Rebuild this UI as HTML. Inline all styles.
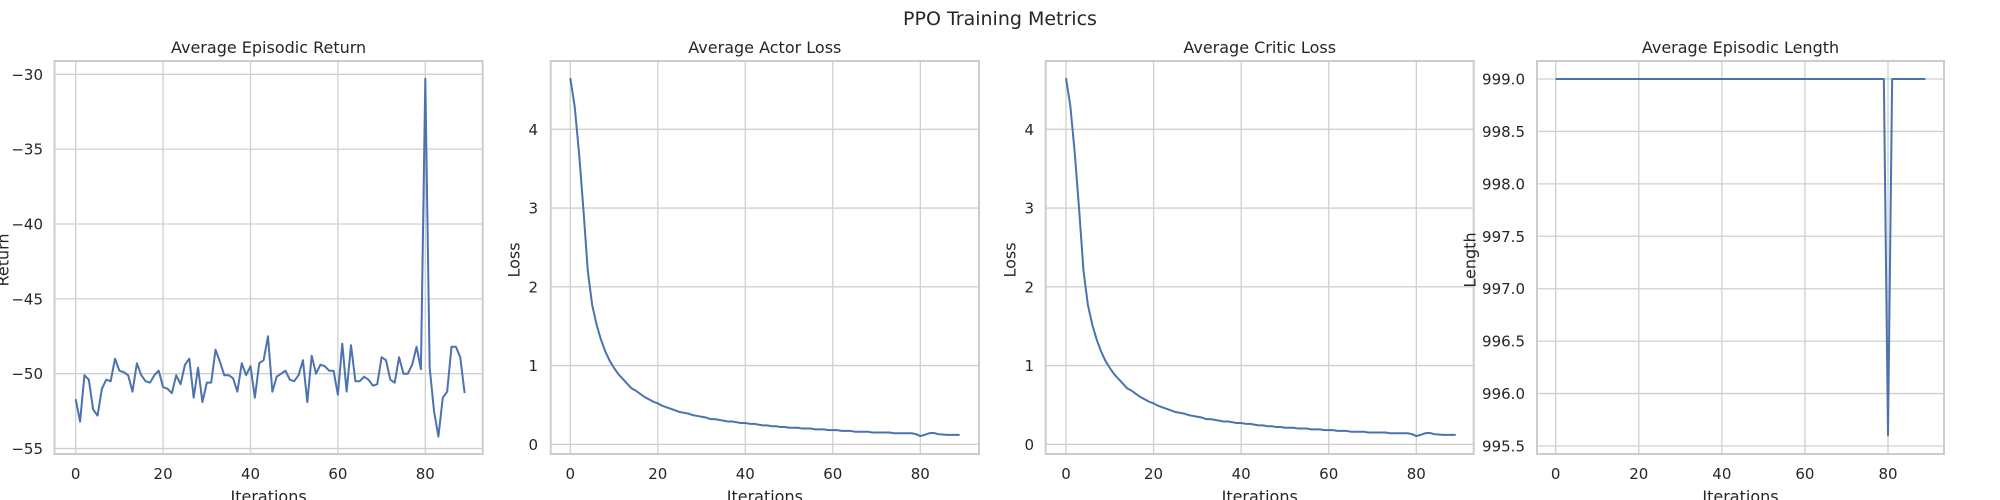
<!DOCTYPE html>
<html><head><meta charset="utf-8">
<style>
body{margin:0;background:#fff;}
svg{display:block;font-family:"DejaVu Sans","Liberation Sans",sans-serif;}
text{fill:#262626;}
</style></head>
<body>
<svg id="fig" width="2000" height="500" viewBox="0 0 2000 500" xmlns="http://www.w3.org/2000/svg">
<text x="1000" y="25" font-size="19" text-anchor="middle">PPO Training Metrics</text>
</svg>
<script>
const iterations = [];
for (let i = 0; i < 90; i++) iterations.push(i);
const returnValues = [-51.7,-53.2,-50.1,-50.4,-52.4,-52.8,-51.0,-50.4,-50.5,-49.0,-49.8,-49.9,-50.1,-51.2,-49.3,-50.1,-50.5,-50.6,-50.1,-49.8,-50.9,-51.0,-51.3,-50.1,-50.7,-49.4,-49.0,-51.6,-49.6,-51.9,-50.6,-50.6,-48.4,-49.2,-50.1,-50.1,-50.3,-51.2,-49.3,-50.1,-49.5,-51.6,-49.3,-49.1,-47.5,-51.2,-50.2,-50.0,-49.8,-50.4,-50.5,-50.1,-49.1,-51.9,-48.8,-50.0,-49.4,-49.5,-49.8,-49.8,-51.4,-48.0,-51.2,-48.1,-50.5,-50.5,-50.2,-50.4,-50.8,-50.7,-48.9,-49.1,-50.4,-50.6,-48.9,-50.0,-50.0,-49.4,-48.2,-49.7,-30.3,-49.6,-52.5,-54.2,-51.6,-51.2,-48.2,-48.2,-48.9,-51.3];
const actorLoss = [4.65,4.29,3.70,2.98,2.20,1.77,1.52,1.33,1.18,1.06,0.97,0.89,0.83,0.77,0.71,0.68,0.64,0.60,0.57,0.54,0.52,0.49,0.47,0.45,0.43,0.41,0.40,0.39,0.37,0.36,0.35,0.34,0.32,0.32,0.31,0.30,0.29,0.29,0.28,0.27,0.27,0.26,0.26,0.25,0.24,0.24,0.23,0.23,0.22,0.22,0.21,0.21,0.21,0.20,0.20,0.20,0.19,0.19,0.19,0.18,0.18,0.18,0.17,0.17,0.17,0.16,0.16,0.16,0.16,0.15,0.15,0.15,0.15,0.15,0.14,0.14,0.14,0.14,0.14,0.13,0.105,0.12,0.14,0.145,0.13,0.125,0.12,0.12,0.12,0.12];
const criticLoss = [4.65,4.29,3.70,2.98,2.20,1.77,1.52,1.33,1.18,1.06,0.97,0.89,0.83,0.77,0.71,0.68,0.64,0.60,0.57,0.54,0.52,0.49,0.47,0.45,0.43,0.41,0.40,0.39,0.37,0.36,0.35,0.34,0.32,0.32,0.31,0.30,0.29,0.29,0.28,0.27,0.27,0.26,0.26,0.25,0.24,0.24,0.23,0.23,0.22,0.22,0.21,0.21,0.21,0.20,0.20,0.20,0.19,0.19,0.19,0.18,0.18,0.18,0.17,0.17,0.17,0.16,0.16,0.16,0.16,0.15,0.15,0.15,0.15,0.15,0.14,0.14,0.14,0.14,0.14,0.13,0.105,0.12,0.14,0.145,0.13,0.125,0.12,0.12,0.12,0.12];
const lengthValues = [
999,999,999,999,999,999,999,999,999,999,
999,999,999,999,999,999,999,999,999,999,
999,999,999,999,999,999,999,999,999,999,
999,999,999,999,999,999,999,999,999,999,
999,999,999,999,999,999,999,999,999,999,
999,999,999,999,999,999,999,999,999,999,
999,999,999,999,999,999,999,999,999,999,
999,999,999,999,999,999,999,999,999,999,
995.6,999,999,999,999,999,999,999,999,999];
const xTicks = [0,20,40,60,80];
const returnTicks = [-55,-50,-45,-40,-35,-30];
const lossTicks = [0,1,2,3,4];
const lengthTicks = [995.5,996.0,996.5,997.0,997.5,998.0,998.5,999.0];
const returnTickLabels = ["\u221255","\u221250","\u221245","\u221240","\u221235","\u221230"];
const lossTickLabels = ["0","1","2","3","4"];
const lengthTickLabels = ["995.5","996.0","996.5","997.0","997.5","998.0","998.5","999.0"];

const NS = "http://www.w3.org/2000/svg";
const svg = document.getElementById('fig');
function mk(tag, attrs, parent){
  const e = document.createElementNS(NS, tag);
  for (const k in attrs) e.setAttribute(k, attrs[k]);
  (parent||svg).appendChild(e);
  return e;
}
const panels = [
  {name:'return', title:'Average Episodic Return', ylabel:'Return', left:54.5, right:482.7, x0:75.7, x80:425.3,
   yv0:-50, yp0:373.7, yv1:-30, yp1:74.3, data:returnValues, ticks:returnTicks, labels:returnTickLabels, ylabelX:3, tickX:43},
  {name:'actor-loss', title:'Average Actor Loss', ylabel:'Loss', left:550.7, right:979, x0:570.3, x80:920.3,
   yv0:0, yp0:444.3, yv1:4, yp1:129.3, data:actorLoss, ticks:lossTicks, labels:lossTickLabels, ylabelX:514, tickX:538},
  {name:'critic-loss', title:'Average Critic Loss', ylabel:'Loss', left:1045.7, right:1473.7, x0:1066, x80:1416.3,
   yv0:0, yp0:444.3, yv1:4, yp1:129.3, data:criticLoss, ticks:lossTicks, labels:lossTickLabels, ylabelX:1010, tickX:1034},
  {name:'episode-length', title:'Average Episodic Length', ylabel:'Length', left:1537, right:1944, x0:1555.7, x80:1888,
   yv0:999, yp0:79, yv1:995.5, yp1:446, data:lengthValues, ticks:lengthTicks, labels:lengthTickLabels, ylabelX:1470, tickX:1525}
];
const TOP = 61, BOTTOM = 454;
panels.forEach(p => {
  const xs = v => p.x0 + (v - 0) * (p.x80 - p.x0) / 80;
  const ys = v => p.yp0 + (v - p.yv0) * (p.yp1 - p.yp0) / (p.yv1 - p.yv0);
  const g = mk('g', {});
  
  
  mk('rect', {x:p.left, y:TOP, width:p.right-p.left, height:BOTTOM-TOP, fill:'#fff'}, g);
  xTicks.forEach(t => {
    const l = mk('line', {x1:xs(t), x2:xs(t), y1:TOP, y2:BOTTOM, stroke:'#d0d0d0', 'stroke-width':1.3}, g);
    
    
    const tx = mk('text', {x:xs(t), y:479, 'font-size':15, 'text-anchor':'middle'}, g);
    tx.textContent = String(t);
    
    
  });
  p.ticks.forEach((t, i) => {
    const l = mk('line', {x1:p.left, x2:p.right, y1:ys(t), y2:ys(t), stroke:'#d0d0d0', 'stroke-width':1.3}, g);
    
    
    const tx = mk('text', {x:p.tickX, y:ys(t)+5.5, 'font-size':15, 'text-anchor':'end'}, g);
    tx.textContent = p.labels[i];
    
    
  });
  const fr = mk('rect', {x:p.left, y:TOP, width:p.right-p.left, height:BOTTOM-TOP, fill:'none', stroke:'#cccccc', 'stroke-width':2}, g);
  
  
  const pts = p.data.map((v, i) => xs(iterations[i]).toFixed(2) + ',' + ys(v).toFixed(2)).join(' ');
  const line = mk('polyline', {points:pts, fill:'none', stroke:'#4c72b0', 'stroke-width':2, 'stroke-linejoin':'round'}, g);
  
  
  const cx = (p.left + p.right) / 2;
  const tt = mk('text', {x:cx, y:53, 'font-size':16, 'text-anchor':'middle'}, g);
  tt.textContent = p.title;
  
  
  const xl = mk('text', {x:cx, y:502, 'font-size':16, 'text-anchor':'middle'}, g);
  xl.textContent = 'Iterations';
  
  
  const yl = mk('text', {x:p.ylabelX, y:260, 'font-size':16, 'text-anchor':'middle', transform:'rotate(-90 '+p.ylabelX+' 260)', 'dominant-baseline':'central'}, g);
  yl.textContent = p.ylabel;
  
  
});
</script>
</body></html>
